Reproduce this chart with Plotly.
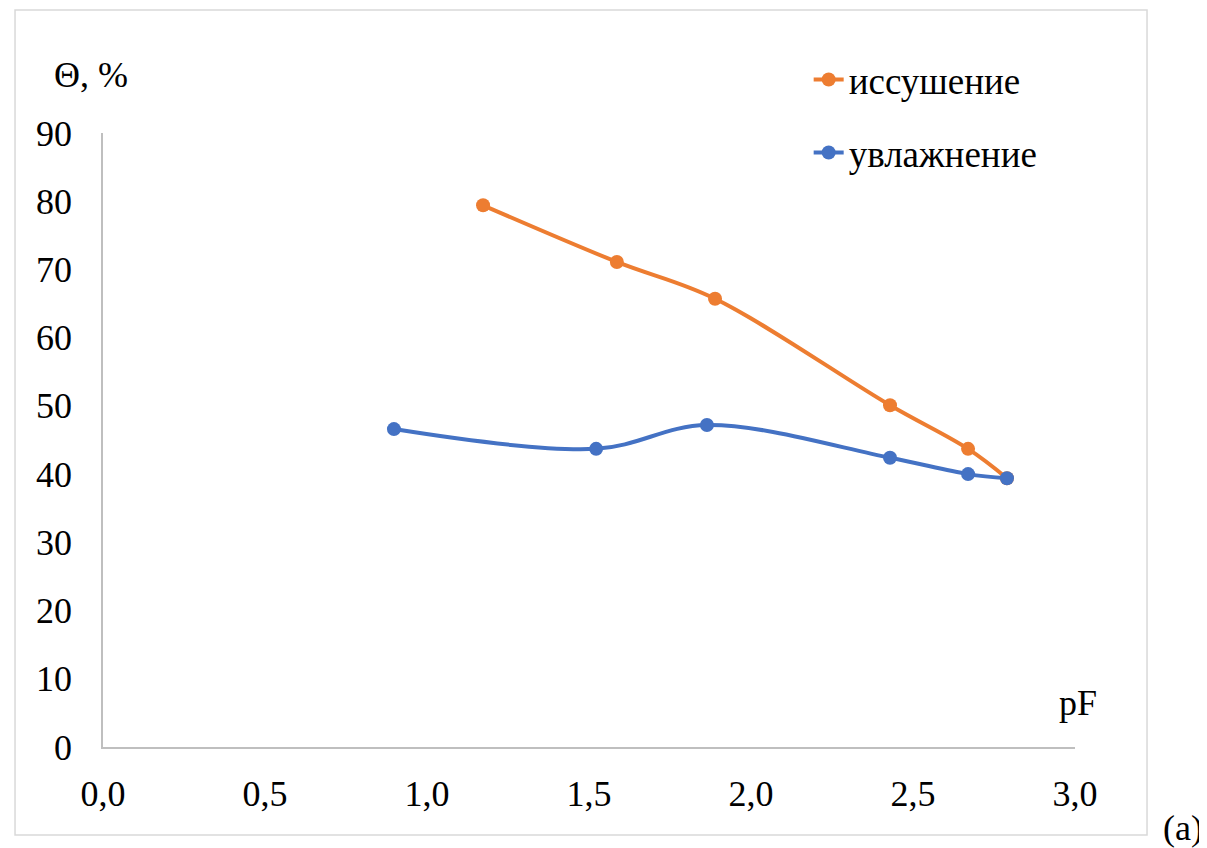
import plotly.graph_objects as go

# Data
drying_x = [1.173, 1.586, 1.889, 2.429, 2.670, 2.790]
drying_y = [79.4, 71.1, 65.7, 50.1, 43.7, 39.4]
wetting_x = [0.898, 1.522, 1.864, 2.429, 2.670, 2.790]
wetting_y = [46.6, 43.7, 47.2, 42.4, 40.0, 39.4]
names = ["иссушение", "увлажнение"]
colors = ["#ED7D31", "#4472C4"]

FONT = "'Liberation Serif', 'Times New Roman', 'DejaVu Serif', serif"
FS = 36

fig = go.Figure()
fig.add_trace(go.Scatter(x=drying_x, y=drying_y, mode="lines+markers", name=names[0],
                         legendgroup="g1",
                         line=dict(color=colors[0], width=4, shape="spline"),
                         marker=dict(size=14, color=colors[0])))
fig.add_trace(go.Scatter(x=wetting_x, y=wetting_y, mode="lines+markers", name=names[1],
                         legendgroup="g2",
                         line=dict(color=colors[1], width=4, shape="spline"),
                         marker=dict(size=14, color=colors[1])))

fig.update_layout(
    width=1199, height=840,
    margin=dict(l=95, r=132, t=125, b=101),
    paper_bgcolor="white", plot_bgcolor="white",
    separators=", ",
    font=dict(family=FONT, size=FS, color="black"),
    showlegend=True,
    legend=dict(x=0.726, y=1.137, xanchor="left", yanchor="top",
                tracegroupgap=22, traceorder="grouped",
                bgcolor="rgba(0,0,0,0)", font=dict(size=37, family=FONT)),
    xaxis=dict(range=[0, 3], tickvals=[0, 0.5, 1, 1.5, 2, 2.5, 3], tickformat=".1f",
               showgrid=False, zeroline=False, showline=True, linecolor="#bfbfbf",
               linewidth=1.5, ticks="", ticklabelstandoff=14,
               tickfont=dict(size=FS, family=FONT)),
    yaxis=dict(range=[0, 90], tickvals=list(range(0, 91, 10)),
               showgrid=False, zeroline=False, showline=True, linecolor="#bfbfbf",
               linewidth=1.5, ticks="", ticklabelstandoff=22,
               tickfont=dict(size=FS, family=FONT)),
    shapes=[dict(type="rect", xref="paper", yref="paper",
                 x0=-0.0905, x1=1.0741, y0=-0.1433, y1=1.2003,
                 line=dict(color="#d9d9d9", width=1.5), fillcolor="rgba(0,0,0,0)", layer="below")],
    annotations=[
        dict(text="Θ, %", xref="paper", yref="paper", x=-0.0525, y=1.0945, xanchor="left",
             yanchor="middle", showarrow=False, font=dict(size=FS, family=FONT)),
        dict(text="pF", xref="paper", yref="paper", x=1.003, y=0.0717, xanchor="center",
             yanchor="middle", showarrow=False, font=dict(size=FS, family=FONT)),
        dict(text="(a)", xref="paper", yref="paper", x=1.111, y=-0.132, xanchor="center",
             yanchor="middle", showarrow=False, font=dict(size=FS, family=FONT)),
    ],
)

fig.write_html("out.html")
